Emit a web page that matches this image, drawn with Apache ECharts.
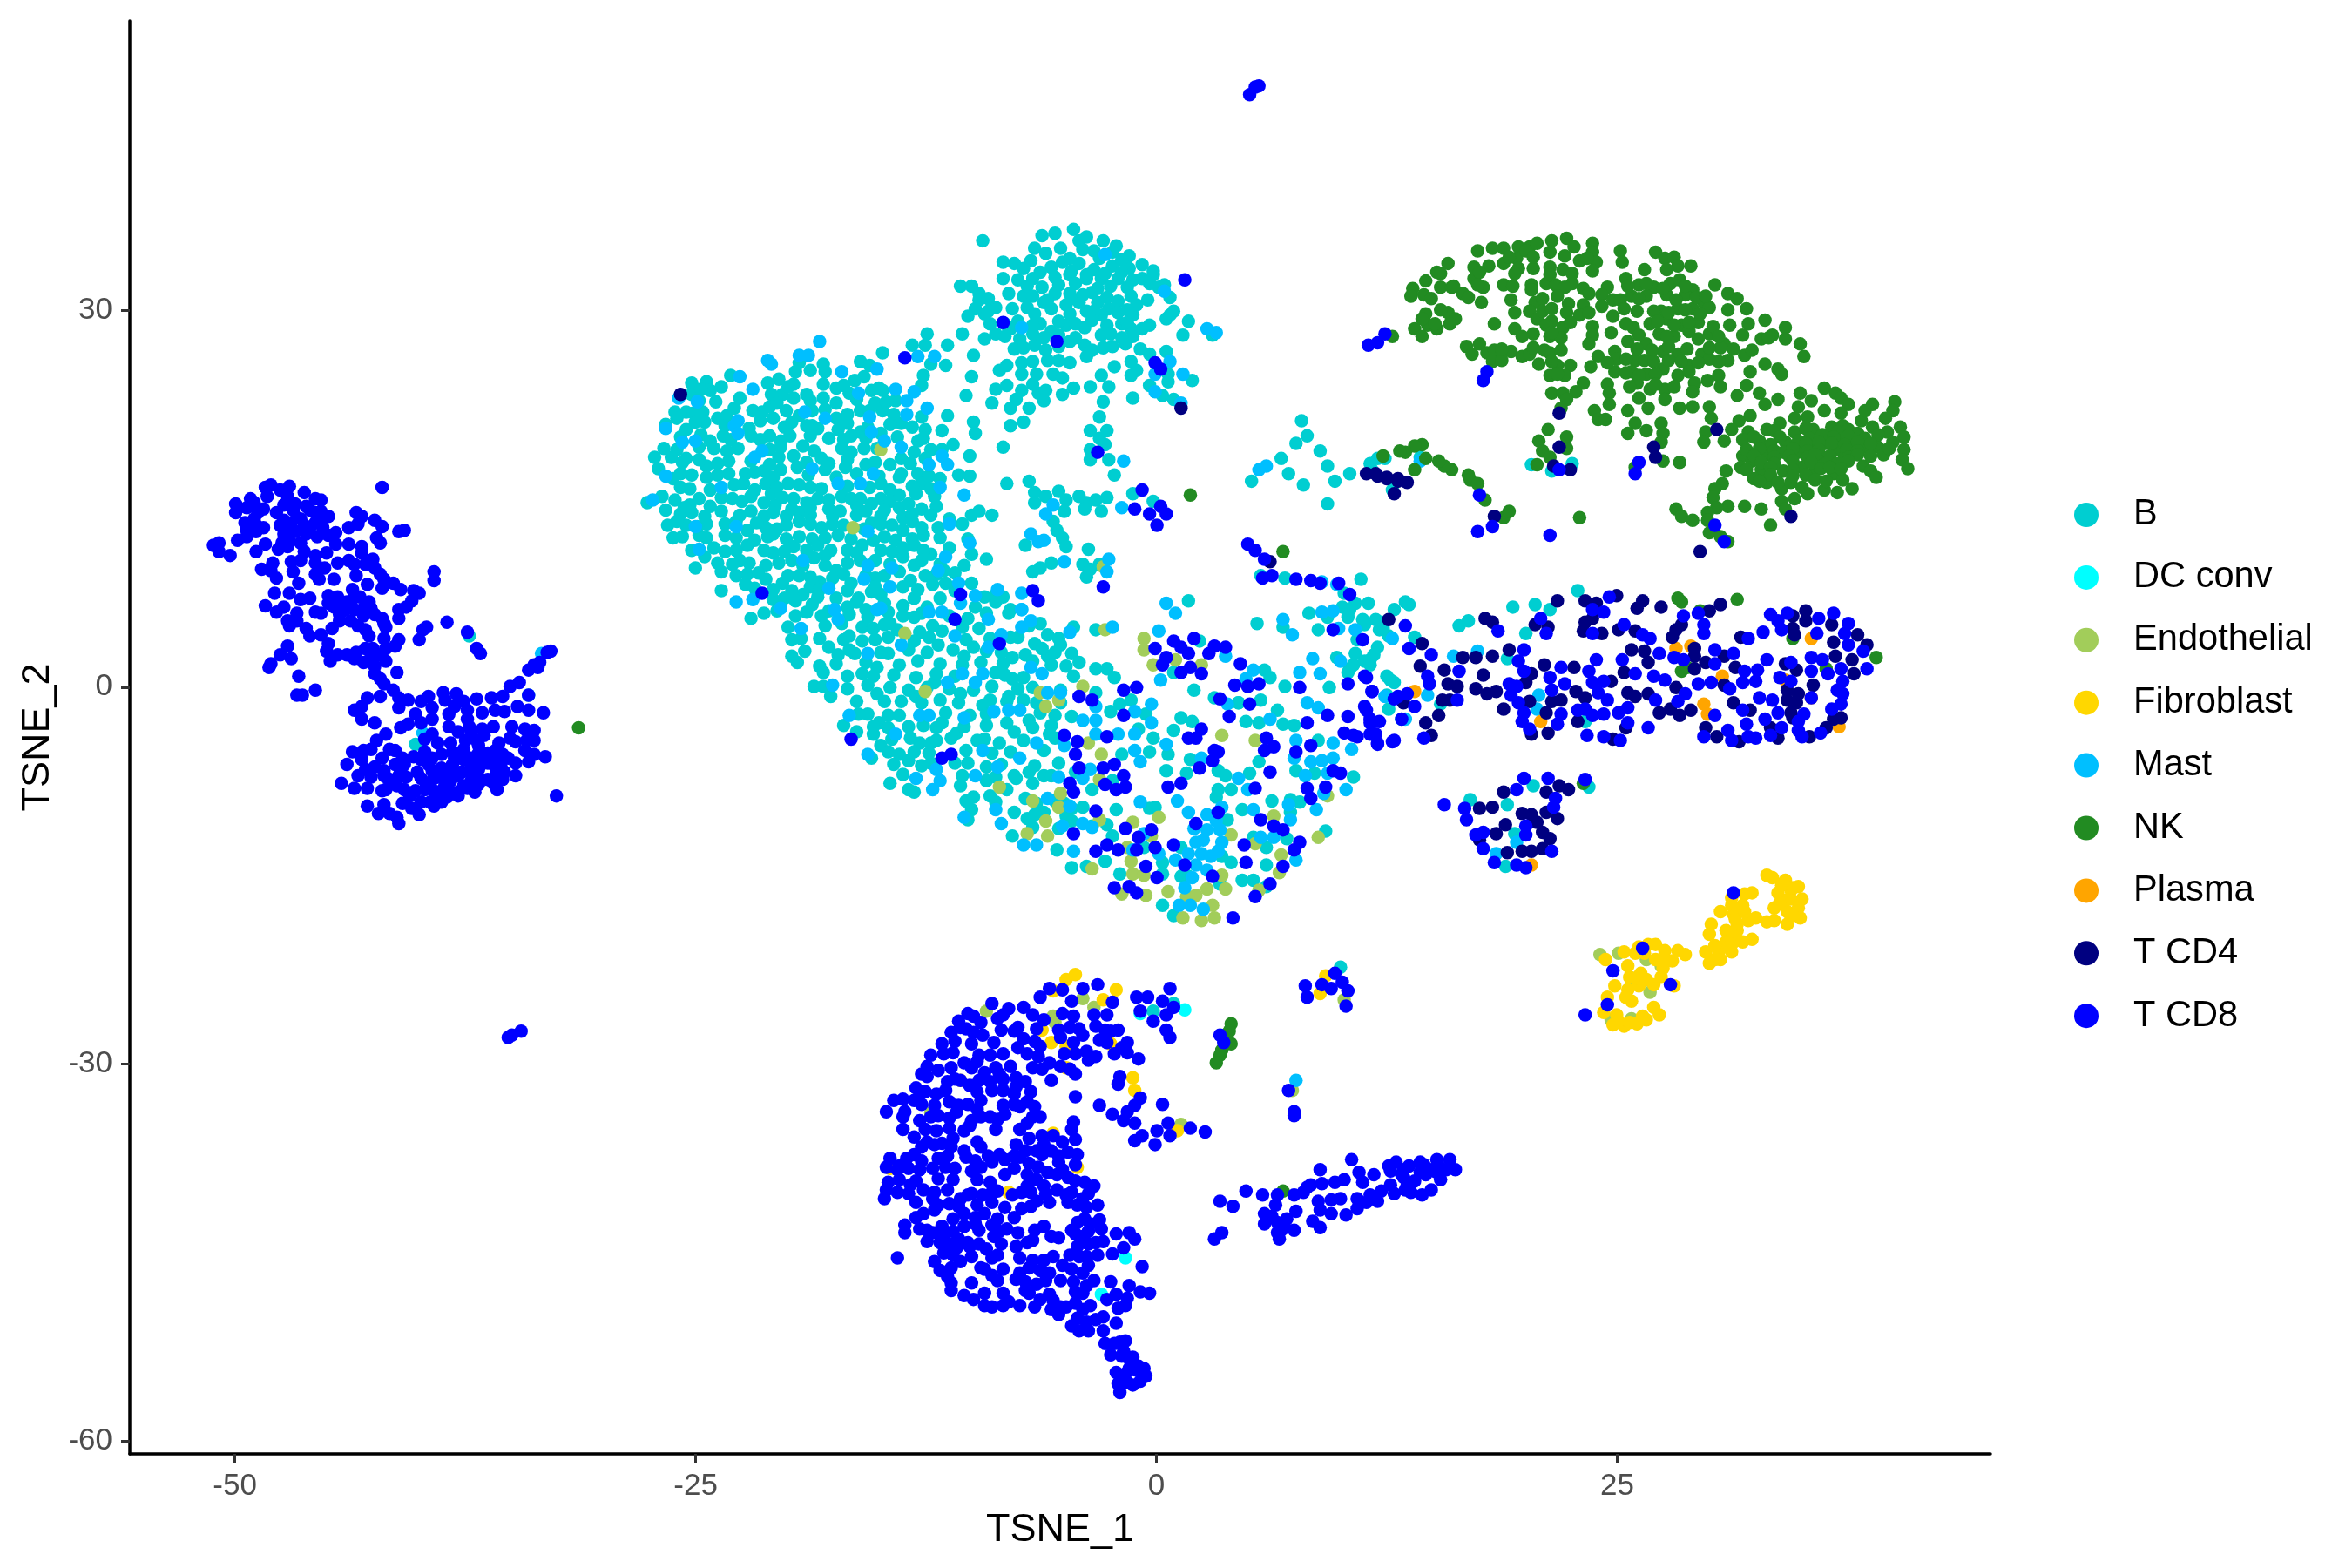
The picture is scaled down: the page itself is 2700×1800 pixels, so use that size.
<!DOCTYPE html>
<html><head><meta charset="utf-8">
<script src="https://cdn.jsdelivr.net/npm/echarts@6/dist/echarts.min.js"></script>
<style>html,body{margin:0;background:#fff}#c{width:2700px;height:1800px}</style></head>
<body><div id="c"></div>
<script>
const cellTypes=["B","DC conv","Endothelial","Fibroblast","Mast","NK","Plasma","T CD4","T CD8"];
const xTicks=[-50,-25,0,25];
const yTicks=[-60,-30,0,30];
// flat x,y lists
const bTop=[-9.7,35.6,-6.5,36,-5.8,36.2,-4.8,36.5,-4.1,35.9,-4.5,35.6,-6.9,35,-6.3,34.6,-3.2,35.6,-2.5,35.2,-1.8,34.4,-3.7,34.8,-2.7,34.7,-8.6,33.9,-8,33.8,-7.5,33.4,-8.6,32.6,-7.8,32.5,-7,32.6,-6,33.5,-5.4,33.9,-4.5,33.8,-3.7,33.3,-2.7,33.6,-1.8,33.4,-1.1,33.7,-.5,33.2,-1.1,32.6,.1,32.1,.4,31.1,-1.6,32.5,-2.4,32.6,-3.3,32.6,-4.1,32.6,-5,32.9,-5.8,32.7,-6.5,31.9,-8.3,31.4,-7.5,31.2,-10.9,32,-10.3,32,-9.9,31.4,-9.9,30.9,-10.1,30.2,-10.5,29.6,-9.6,29.8,-9,30.3,-8.1,30.2,-7.3,30.3,-6.4,30.7,-5.8,31.4,-5,31.4,-3.8,31.5,-4.5,30.7,-5.2,30.5,-3.5,30.7,-2.9,30.2,-4.1,30,-3.3,29.7,-1.6,29.7,-1.4,30.5,-2.2,29,-1.7,28.6,-.7,28.9,-1.1,28.6,.4,29.7,.6,30,.2,29.4,1.4,29.2,1.1,28.1,2.7,28.1,-9.3,29,-9,28.2,-9.6,27.8,-8.2,28.6,-6.6,29,-6,28.4,-5.2,28.9,-4.2,28.7,-3.3,28.1,-5,27.6,-4.2,27.3,-7.7,27.8,-6.9,27.3,-2.7,27.2,-2,27.4,-1.6,28,-.7,26.6,.2,26.8,-4.1,26.4,-5,25.9,-6.2,26.1,-7.6,25.9,-2.6,25.6,-3.3,24.9,-5.9,25,-5.4,24.7,-7.6,25,-8.4,25.7,-8.8,25.3,-1.4,25.3,-1.7,24.9,-8.4,24.1,-9,23.8,-7.6,23.7,-7.9,23,-8.2,22.3,-7.2,22.3,-9.2,22.7,-6.7,23.5,-6.3,23.7,-6.4,22.9,-5.4,23.4,-4.8,23.9,-3.9,24,-3.2,22.8,-1.6,23.1,.3,24.4,-.7,24.1,0,23.3,.6,23,1.6,24.5,.3,25,-8.2,20.9,-7.5,21.2,-3.4,21.6,-3.9,20.5,-3,20.5,-3.4,19.9,-3.1,19.4,-3.9,19,-3.9,18.2,-2.9,18.2,-2.6,17,-8.6,19.2,-8.4,16.3,-7.2,16.5,-6.9,15.6,-6.9,14.8,-6.3,15.3,-5.6,15.7,-5.2,15,-4.5,15.3,-4.1,14.8,-3.6,15,-3,15.2,-3.3,14.1,-4.2,14.3,-5.3,14.1,-5.9,13.3,-5.7,12.6,-5.4,12,-5.2,11.3,-1.6,15.5,-.5,14.9,-7.4,11.4,-4,11.1,-6,10,-6.6,9.6,-7,9.3,-4.3,9.9,-3.9,9.5,-3.4,9.9,-4.1,8.9];
const bLeft=[-23.3,24.9,-25.4,24.3,-24.6,24.4,-23.8,24,-24.4,23.7,-25.4,23.4,-21.3,24.3,-20.7,24.6,-19.8,25.2,-19.6,25.9,-19,25.3,-18.3,25.8,-18.2,25.2,-16.3,26,-15.8,25.7,-15.1,26.7,-16.1,24.8,-16.6,24.5,-18.3,24.2,-17.6,23.9,-19.9,24.2,-21.1,23.4,-20.5,23.4,-19.9,23.1,-19.2,23.4,-16.9,23.5,-15.7,23.7,-15.1,23.7,-14.4,22.9,-13,24.1,-12.9,24.9,-12.5,25.8,-11.7,25.7,-12.7,28.2,-12.8,27.3,-13.5,27.3,-11.6,27.3,-10.8,28.2,-10.2,26.5,-10.3,24.8,-10.6,23.3,-11.6,21.7,-10.2,21.2,-10.1,20.3,-11.9,20.5,-12.8,20.6,-14.1,21.1,-15.1,22.1,-16.3,22.1,-15.5,22.7,-18.3,23.1,-18.2,22.2,-17.6,21.5,-20.3,22.1,-21.2,22.4,-22.1,22.1,-23.1,22.3,-24.1,22.8,-24,21.5,-24.8,22,-24.7,21.2,-26.3,22,-25.7,22,-26.2,21.5,-25.7,20.6,-21.7,21.3,-21,21.5,-20.4,20.8,-19.2,20.9,-18.6,20.7,-17.5,20.6,-16.3,20.4,-15.2,20.3,-22.2,20.1,-21.2,20.1,-20.1,20.1,-18,19.9,-16.8,20.1,-24.4,19.7,-23.3,19.8,-26.9,19.1,-27.4,18.4,-27.2,17.5,-26.5,18.4,-25.7,18.3,-24.2,19.1,-22.9,19.1,-20.7,18.4,-19.4,19.3,-19.9,18.5,-18.4,18.3,-17.3,19.1,-16.1,19.1,-14.1,18.3,-13.2,19.7,-12.5,19,-11.3,19.4,-10.4,18.5,-26.4,16.7,-25.4,17,-24.6,17.7,-24.6,16.8,-23.4,18.1,-23.4,17.1,-22.5,17.1,-21.5,17.3,-20.6,17.4,-19.7,17.6,-18.2,17.4,-17.1,17.6,-16,17.8,-14.7,17.8,-13.2,17.1,-22.6,16.3,-21.4,16.3,-20.2,16.3,-19,16,-15.2,16.3,-14.2,16.8,-13,16.3,-12,16.7,-11,17,-10.4,16.9,-25.5,15.9,-24.4,15.8,-27,15.3,-27.8,14.8,-25.5,14.6,-23.2,15.1,-22.2,15.3,-21.1,15.5,-19.9,15.1,-18.6,15.1,-17.3,15.3,-16.3,15.1,-15.2,15.1,-14.2,15.4,-13.3,15.5,-12.3,15.3,-26.8,14.2,-25.8,14.4,-24.4,14.5,-22.2,14.1,-20.9,14.6,-19.6,14,-18,14.3,-16.5,14.6,-14.2,14.4,-13,14.3,-12.2,14.5,-26,13.9,-24.7,13.7,-21.5,13.7,-20.3,13.7,-19,13.8,-17.8,13.7,-16.5,13.8,-15.2,13.7,-14,13.6,-10.3,13.8,-9.9,14.1,-9.2,13.8,-26.7,13,-25.7,13,-24.6,13.1,-23.6,13.1,-22.4,12.6,-21.4,12.8,-20.3,13,-19,13.1,-17.8,13.1,-15.7,13.2,-14.6,13,-13.5,13.3,-12.1,12.8,-10.8,13.1,-25.9,12.1,-24.6,12,-23.6,12.2,-21.3,12.1,-20.3,11.9,-18.9,11.9,-15.6,11.8,-14.4,11.8,-12.9,12.2,-10.5,11.9,-24.7,10.5,-23.6,10.9,-22.4,11.4,-21.5,11,-19.9,11.3,-18.6,11.4,-17.9,11,-17,11,-16.2,11.4,-14.6,10.9,-13.4,11.4,-12.5,10.7,-10.3,10.7,-25.2,9.6,-23.8,9.3,-23.2,9.9,-22.3,10,-21.4,9.8,-20.7,10,-18.8,10.4,-17.6,9.4,-16.3,10.2,-14,10.5,-13.4,9.8,-9.5,10.3,-10.7,9.8,-22.4,9.1,-20.2,9,-21.4,8.7,-22.5,8.3,-23.8,7.8,-20.5,8.4,-18.5,8.5,-16.8,8.4,-15,9,-14.2,9.3,-12.8,9,-11.2,9.2,-12.4,8.3,-11.7,8.4,-10.3,8.4,-14,8.1,-22.2,5.6,-21,7.1,-20.4,7.2,-19.4,7.5,-18.6,7.3,-17.6,7.2,-16.5,6.9,-15.7,7.7,-13.4,7.2,-12.7,6.5,-9.6,7.3,-9,6.9,-8.2,6.3,1.4,7];
const bLow=[-20.2,4.9,-20,3.9,-20,2.6,-19.7,2.1,-18.5,1.8,-18.3,1.3,-18.8,.2,-18.3,.2,-17.9,-.6,-19.2,6.1,-18.4,5.8,-18.5,4,-18,3.3,-17.5,2.7,-16.4,7.2,-17.2,3.9,-16.2,4.9,-16.6,2.8,-16.2,3.8,-15.2,7.5,-15,5.1,-14.3,4.7,-14.8,2.8,-13.4,5.7,-13.1,4.5,-11.9,4.6,-12.1,3.5,-11.3,3.1,-10.7,2.6,-10.2,3.3,-9.9,4.8,-7.8,4.1,-8.3,6,-10.1,6.5,-9,7.5,-6.9,3.6,-8.1,2.5,-7.4,2.7,-6.2,2.6,-6.2,4.3,-5.5,3.5,-4.9,2.8,-5.2,1.8,-3.6,4.7,-3.6,1.6,-3,1.6,-2.6,.9,-17,1,-16.2,1.2,-15.4,1.7,-15.9,.3,-15.4,-.4,-15,-1,-14.1,-1,-13.3,-.6,-12.3,.5,-9,1.3,-8.1,.8,-10.9,-.4,-9.3,-.9,-8.3,-.6,-6.8,-1.1,-17.2,-2.9,-16.5,-3.4,-15.9,-2,-15.3,-2.7,-14.8,-2.1,-15.6,-3.6,-13.7,-3,-11.9,-2.7,-11.1,-3.5,-9.7,-1.3,-7.2,-2.5,-8.4,-2.7,-8,-3.4,-8.8,-4.3,-10,-4.1,-6.1,-3.6,-4.9,-2.2,-15.7,-5.5,-15.2,-4.5,-14.8,-5,-14.2,-5.2,-13.7,-5.7,-13.1,-4.3,-12.5,-4.3,-12.5,-5.9,-11.2,-5.9,-10.8,-6.9,-9.5,-6.2,-9.5,-7.3,-8,-6.9,-7.2,-6.6,-5.6,-5.9,-6.4,-6.9,-7,-7.5,-14.7,-7.5,-14,-6.8,-13.7,-8,-13.4,-8.2,-10.9,-7.7,-10.6,-8.9,-10.2,-8.6,-10.3,-9.6,-10.5,-10.4,-9.3,-8.5,-8.4,-8,-8,-9.8,-8.1,-11.7,-5.7,-12.8,-4.9,-14.2,-4.1,-14.1,-7.4,-8.7,-7.3,-10.3,-6.4,-9.8,-4.9,-9.5,-4.3,-9.4,-4.9,-10.5,-3.8,-8,-4.7,-6.6,-2.7,-7.3,-2.5,-9.6,-3,-10.8,-2.7,-11.7,-3.1,-13.7,-2.3,-14.7,-1,-12.6,0,-13.8,0,-14.7,0,-17.2,.6,-18,3.1,-15.5,4.3,-15.2,4.9,-15.2,5.6,-15.7,1,-14.9,1.4,-14.9,1,-12.6,3.2,-13.3,3.7,-13.8,5.6,-14,5.6,-12.6,4.9,-11.8,6.7,-11.9,8.8,-11.3,6.9,-9.8,3.5,-10.4,3,-9.8,-.4,-9.4,-.7,-9.5,4.3,-9.6,4.1,-1.1,2.9,-8.6,3.7,-8,3,-8,5.9,-8.9,6.9,-8.8,7.4,-9,.2,-6.5,1.3,-6.7,3,-6.5,3.4,-6.9,4.7,-6.7,5.2,-5.8,1.5,-5.6,-.7,-5,-2.2,-5.2,.3,-5.2,-.5,-3.9,-1.3,-3.2,.6,-3.3,1,-2.3,1.6,-2.6,8.4,-4.1,7.2,-6.5,8.2,-6.7,10.3,-7,5.5,1.5,5.8,.9,2.8,-.7,4.1,-1.1,5.3,-.9,4.5,-2.6,5.2,-2.7,6.2,-1.7,6.5,-2.8,7.1,-2.9,6.6,.2,9,.1,12.3,.7,5.1,5.2,6.5,4.9,8.4,4.7,7.9,6,9.8,7.6,10.4,6.8,11.1,6.8,9.7,6.5,10,5.7,10.8,5.5,11.8,5.3,11.4,2.7,10.4,2.8,9.4,2.5,11.7,4.7,12.2,4.2,10.3,1.9,11.2,1.9,10,1.3,.6,1.3,1.7,-.1,2,3.8,-3.6,-.3,-2.3,-1.2,-1.7,-.9,-.9,-2,-2.8,-1.8,5.3,9,6.6,8.8];
const bMid=[7.5,21.3,7.8,20.1,7.2,19.5,6.4,18.3,6.8,17.1,8.5,18.9,8.9,17.7,9.3,16.5,4.8,16.5,7.6,16.2,8.9,14.7,10.1,17.1,12,18.3,10.7,8.7,10.1,6.3,10.9,5.1,11.5,5.5,10.5,3.9,11.6,3.3,10.9,2.2,10.1,1.6,12.1,1,13.3,6.7,12.5,6.3,8.9,5.7,13.9,18.4,11.2,17.9,11.3,17.4,11.6,18.3,12.4,15.8,22.1,17.9,21,17.3,19.9,17.8,22.4,7.8,13.1,6.9,18.9,6.5,20.1,6.7,20.9,6.3,19.6,4.4,16,5,16.5,5.4,13.6,4.1,11.9,4.8,12.5,.5,15,-1.2,12.9,-2.4,12.1,-.5,12.2,-1.6,18.6,2.4,11.2,2.3,22.8,-2.6,16.6,-8.8,18.6,-9.2,20,-7.7,23,-7.8,18.5,-14.1,19,-11.5,-37.4,4.2,-34.2,-.5,-40.3,-4.4,9.6,-22.1,-.5,-25.6,.6,-25];
const bFillLeft=[-24.9,23.8,-20.2,24,-17.2,24.1,-15.3,23.9,-25,22.9,-22.8,23.1,-20.8,22.7,-19,22.9,-17.6,22.7,-16.5,23,-14.9,22.8,-25.3,21.9,-23.5,21.7,-21.6,22,-19.6,21.7,-18.9,22.1,-17,21.8,-15.8,22.1,-14.5,21.8,-13,21.6,-26.8,21,-25.2,21.2,-23.6,20.9,-22.3,20.7,-20,21.2,-18.9,20.9,-17,21.1,-15.9,20.8,-14.7,21,-13.5,20.8,-26,20,-24.9,20.2,-23.7,20.1,-21.7,19.8,-20.6,19.7,-19,20.1,-17.2,19.8,-16,19.9,-14.3,20,-12.9,19.9,-26.2,19,-25,19.2,-23.5,18.9,-21.2,19,-20.6,19.2,-18.8,18.9,-16.8,18.8,-15.4,19.1,-13.4,18.8,-11.9,19,-25.9,18,-25,18.2,-24,17.9,-22.2,18.1,-21.2,17.8,-19.2,18,-18,17.9,-17,18.2,-15.5,18,-13.6,17.9,-12.8,18.3,-26,17.1,-24,17,-22,17.2,-21,16.8,-19.1,17,-17.6,16.8,-16.5,17.1,-15.3,16.9,-14.1,17.1,-12.6,16.9,-26,16,-23.1,16.2,-22,15.8,-20.8,16,-19.6,16.2,-18.4,15.9,-17,16.1,-15.8,16,-14.7,15.8,-13.5,16.1,-12.5,15.9,-26.3,15,-25,15.1,-23.8,15.2,-22.7,14.9,-21.5,14.8,-20.5,15.2,-19.2,14.8,-18,15,-16.8,15.1,-15.7,14.7,-14.7,14.9,-13.7,14.7,-25.4,14,-23.8,14.1,-22.8,13.8,-21,14,-20,14.3,-19,14.4,-17.4,14.1,-16,14.1,-15,14.2,-13.5,13.9,-12.5,13.8,-26.2,13.3,-25.1,12.9,-23,13.3,-21.9,13.2,-20.8,12.7,-19.6,13.3,-18.4,12.8,-17.2,13,-16.1,12.7,-15.2,13.1,-14,12.6,-13,12.8,-11.5,13.5,-26.4,12,-25,12.2,-23,12,-22,11.8,-21,12.3,-19.6,12.1,-18.2,12,-17.5,12.2,-16.8,11.9,-15,12.1,-13.5,11.9,-12,12,-25.4,11,-24.2,11.2,-23,11,-21,10.8,-20.4,10.9,-19.2,11,-18.2,10.6,-16.5,10.8,-15.2,11,-14,11.2,-12.9,11,-11.5,11.2,-24,10,-22.8,10.2,-20,10.2,-19.4,9.8,-18.2,9.8,-17,10,-15.5,10.2,-14.7,9.9,-13,10.2,-12,9.9,-23,9,-21.8,9.2,-19.6,9,-19,8.9,-17.8,8.8,-17.2,9.1,-16,9,-15.5,8.8,-13.6,8.6,-12.2,9.1,-11.8,9.4,-22,8,-21,7.9,-20,7.8,-19,8.1,-18.5,7.9,-17,7.8,-15.5,8.1,-13.2,7.9,-11.2,7.8,-19.8,7,-18.9,6.7,-17,6.5,-16,6.3,-15,6.8,-14,6.6,-12,7.2,-8.6,7.3,-21.5,6,-20.8,6.2,-19.8,5.8,-18,6.2,-16.9,5.9,-15.9,5.7,-14.8,6.1,-14,5.8,-13,6,-11.5,5.8,-10.5,5.6,-9.5,6];
const bFillTop=[-5.5,35,-4.3,34.9,-5,34.2,-3.4,34.2,-2.2,34.1,-7.1,34,-6.6,33.1,-4.9,33.2,-4.1,32.9,-3.1,33,-2.2,33.1,-.5,32.9,-7.3,32,-5.6,32.1,-4.7,32.2,-3.5,31.8,-2.8,32,-1.9,31.9,-.7,32.2,-.2,31.9,-9.4,31,-7,31.2,-6.2,30.9,-4.9,31,-4.3,31.3,-3,31.1,-2.4,30.8,-1.7,31.2,-.8,30.9,-9.4,30,-6.9,29.8,-6,30.2,-5,29.8,-3.7,30,-2.4,29.9,-1.9,30.1,-8.5,29,-7.8,29.2,-7,28.9,-5.6,29.2,-4.7,29,-3.8,29.3,-3,28.9,-1.9,29.1,-8.5,28,-7,28.2,-6.4,27.9,-5.6,28.1,-4.7,27.9,-2.8,28.2,-2.2,27.9,-8,27,-7.5,27.1,-6.3,26.9,-5.6,27.2,-3.8,26.9,-3.2,27.1,-1.2,27,-7,26,-5.6,26.1,-1.7,26,-6.8,25,-7,24.2,-2.9,24];
const bFillLow=[-18.2,5,-17.3,5.2,-15.6,4.8,-14.7,5.2,-12.4,5,-10.8,4.9,-7.2,5,-6.6,5.2,-4.8,4.9,-19.5,4,-16.9,4.2,-15.5,3.9,-14.8,4.1,-13.4,3.8,-12.6,4.1,-10.6,3.9,-9.3,4,-8.2,4.1,-5.6,4,-19.3,3,-16.9,3.1,-15.2,2.9,-13.7,3.1,-12.7,2.9,-9.5,3,-8.7,2.9,-6.5,3.2,-5.8,2.9,-17.6,2,-16,2.1,-14.2,1.9,-13.2,2.2,-12,2,-10.8,1.9,-9.8,2.1,-8.6,2,-7,2.2,-6,1.9,-4.5,2.1,-15.6,1,-14.5,1.1,-13.3,.9,-12.2,1.2,-11.2,1,-8.5,1.1,-7.5,.9,-4.8,1,-17,0,-14.7,.1,-13.7,-.1,-12.7,.1,-11.5,0,-10.2,-.1,-9.2,.2,-7.8,0,-7,.1,-5.5,-.1,-16.5,-1,-13,-1.1,-12,-.9,-11,-1.1,-8.4,-1,-7.5,-.9,-5.5,-1.1,-16.4,-2,-14.2,-2.1,-11.7,-1.9,-10.4,-2.1,-9.5,-2,-6.6,-1.9,-5.8,-2.1,-15.6,-3,-14.8,-3.1,-12.9,-2.9,-12.2,-3.1,-10.7,-3,-9.5,-2.9,-7,-3.1,-6,-2.9,-14.6,-4,-13.6,-3.9,-12.2,-4.1,-11.4,-3.9,-9.6,-4,-7.5,-4.1,-5.8,-3.9,-13.4,-5,-12.6,-5.1,-10.6,-4.9,-9.2,-5.1,-8.2,-5,-6.4,-4.9,-14.5,-6,-13,-6.1,-10.5,-5.9,-8.7,-6,-6.9,-6.1,-9,-7,-7.9,-7.1,-6,-6.9,-9,-9,-6.8,-9.1,-5.8,-8.9,-5.3,-9.1,-6.9,-10,-5.2,-10.1,-7,-11,-5.6,-11.1,-3.8,-10.9];
const dcConv=[-2,-45.2,-3.3,-48.1,1.2,-25.5,-1.2,-25.8];
const endo=[-15.2,19,-16.7,12.8,-3.2,9.7,-13.9,4.4,-12.8,-.2,-6.6,-.3,-5.6,-.9,-6.3,-1.4,-4.3,.2,-3.1,4.7,-4,-4.3,-3.3,-5.2,-8.8,-7.8,-3.4,-7.2,-7.3,-11.5,-6.2,-11.7,-7,-8.9,-5.5,-8.3,-5.6,-9.4,-6.3,-10.5,-3.8,-14.3,-3.4,-10.4,-1.6,-10.6,-1.9,-12.6,-1.7,-13.7,-1.6,-14.7,-1,-14.8,-.9,-16.4,-2.2,-16.3,-.6,-11.7,.3,-16.1,1.1,-18.2,1.3,-16.5,1.8,-16.4,2.1,-18.4,2.8,-18.2,2.4,-15.9,3.2,-14.8,2.7,-17.2,3.4,-15.9,5.2,-16,3.7,-11.6,5,-12.3,6.4,-13.2,6.3,-14.6,6,-10.1,8.4,-11.8,8.9,-8.5,-.2,-10.2,-1,4,-1,3.1,.7,2.3,-.5,1.9,2.1,1.9,3.2,-3.7,5,-4.1,23.6,-21.1,24.6,-21,26.1,-21.5,25.4,-23,26.3,-24.1,24.2,-26.3,25.3,-26.2,26.9,-22,-9.5,-25.6,-5.9,-26,-4.3,-24.6,-3.7,-25.3,-5.8,-26.5,-12.5,-33.7,1,-34.6,9.8,-24.7,7,-31.9];
const fibroA=[32.6,-14.8,32.9,-15,33.6,-15.2,34.3,-15.7,33.2,-16.2,33.9,-16,34.5,-16.7,33.6,-16.8,33,-17.4,34.3,-17.4,33.7,-17.7,34.4,-18.2,33.7,-18.7,33,-18.4,32.6,-18.5,31.8,-16.2,31.4,-16.3,30.7,-16.6,30.7,-17.2,31.3,-17.2,30.1,-17.7,30.8,-17.9,32,-18.2,31.6,-18.4,31,-18.7,29.6,-18.7,29.5,-19.5,30.4,-19.2,31,-19.2,31.8,-19.9,31.3,-20.1,30.4,-20.1,30,-20.9,30.7,-20.9,29.3,-20.9,29.5,-21.8,30.1,-21.5,33.9,-16.7,33.3,-17,33.9,-18,34,-15.8,33.4,-15.6,31,-17.8,30.9,-18.3,31.4,-17.7,30.3,-20.5,30.9,-19.7,30.7,-20.3,29.8,-20.4,29.8,-21.5];
const fibroB=[25.7,-20.5,26.2,-20.3,26.6,-20.3,27.1,-20.8,27.8,-20.8,28.2,-21.1,24.9,-20.9,23.9,-21.5,25.1,-22,27,-22.2,27.5,-21.6,25.8,-22.6,25.2,-22.9,26.9,-22.9,24.4,-23.6,25.1,-23.9,25.7,-23.6,26.5,-23.5,27.6,-23.6,24,-24.5,25,-24.5,25.3,-24.8,23.8,-25.7,24.5,-25.9,26.5,-25.3,26.8,-25.9,26.1,-26.3,25.6,-26.6,24.9,-26.8,24.3,-26.7,25.5,-21,26,-21,26.6,-21.5,27.1,-21.5,25.5,-23,26.1,-23.1,24.6,-26.4,25.2,-26.5,25.9,-26];
const fibroC=[-5.2,-23.1,-4.7,-22.7,-5.9,-24,-2.5,-23.9,-3.2,-24.7,-6.5,-27.1,-6,-28.1,-5.2,-28.4,-2.8,-28.2,-5.2,-30.1,-1.6,-30.9,-1.5,-31.9,-10.9,-31.1,-5.9,-35.3,.8,-35.1,-14.7,-38.1,-8.3,-40,-4.6,-38,8.8,-22.8,8.5,-24.2];
const mast=[-18.5,27.6,-21.3,26.1,-21.1,25.8,-19.6,26.5,-19.1,26.5,-17.3,25.2,-22.8,24.8,-22.1,23.8,-26.1,23.1,-14.4,23.8,-13.8,22.9,-13.4,23.6,-12.3,26.4,-13.2,26.4,-15.4,25.4,-16.4,23.5,-12.7,22.3,-13.8,21.8,-15.8,21.6,-19.3,22,-25.1,22.8,-26.8,20.7,-22.9,21.3,-23.1,20.9,-18.2,21.5,-15.7,20.4,-22.9,20.3,-25.9,19.6,-25.2,19.7,-21.6,18.9,-22,18.4,-15,19.7,-14.1,19.2,-11.9,18.5,-11.6,17.8,-12.6,17.8,-26.8,16.9,-18.9,17.5,-17.5,16.3,-16.3,16.3,-15.6,17.1,-12,16,-23.8,16,-27.5,15,-10.7,15.4,-25.2,12.9,-23,12.9,-15.9,12.5,-11.5,13.1,-25,11.1,-11.7,10.5,-10.4,11.6,-19.4,10.2,-15.9,9.8,-14.6,9.6,-12.1,9.4,-16.1,8.7,-14.7,8.1,-11,8.4,-18,8,-23,6.9,-22.1,7.1,-20.6,6.4,-15.2,6.4,-10.9,6.8,-10.1,7.4,-8.9,7.9,-7.6,7.6,-7.6,6.3,.2,6.8,.7,6,-2.9,10.3,-3,9.3,-5.3,10.1,-7.1,12.3,-6.4,11.8,-6.7,11.7,-2.2,14.4,-5.9,14.6,-6.3,13.9,-2.1,18.1,-7.6,28.7,-.4,25,-.4,23.6,1,22.7,.4,26,1.1,25,.1,31.6,2.4,28.6,2.9,28.3,-3.1,34.5,-19.5,4.8,-17.8,.3,-17.5,5.5,-17.7,6.3,-15.9,2.8,-15.4,6.3,-14.1,3.5,-12.6,6.1,-11.9,6.1,-11.2,4.2,-9.4,3.3,-9.4,5.5,-8.7,4.3,-7.6,4.9,-7.1,5.4,-7.6,6.3,-5,4.5,-7.1,1.7,-6.5,1.2,-11.6,.5,-10.8,1.2,-9.7,1.2,-10.1,.5,-6.2,-.3,-5.5,-.3,-2.7,4.9,-16.9,-2.1,-14.4,-3.6,-13.1,-2.1,-12.6,-2.1,-10.7,-2.3,-9.1,-1.8,-8.3,-1.7,-7.7,-1.7,-9.7,-4.9,-6.8,-4.3,-4.3,-2.5,-3.6,-2.5,-15.9,-5.2,-12.2,-6.4,-10.1,-6.9,-8.9,-6.2,-7.7,-5.5,-5.3,-4.5,-13.3,-7.1,-12.4,-8,-12,-7.3,-10.7,-10.2,-9,-9.6,-8.7,-10.7,-7.5,-12.4,-6.8,-12.4,-4.8,-12.9,-6.2,-8.7,-4.3,-10.7,-5.4,-10.9,-4.3,-7.1,-3.6,-1.4,-1.5,-1.8,-.6,-1.2,-.2,-13.1,.9,-17.2,2.2,-17.5,1.5,-17.2,1.8,-14,1.4,-13.1,2.1,-13.1,1.8,-12.2,3.2,-12.2,3.1,-11.2,2.4,-11.2,1.4,-9.8,.8,-8.9,2.9,-10.5,3.2,-9.4,4.9,-9.6,4.6,-8,-1.2,-9,5.3,-11.8,6,-11.8,7.2,-13.6,6.9,-10.4,8.3,-9.6,9.9,-8,4.1,-7.1,2.1,-5.5,-1.2,-5.8,-1.5,-4.9,.2,-4.4,-1.5,-3.6,-2.4,-3.6,-3.6,-3.6,-.6,-2.7,7.1,-5.5,7.2,-4.1,7.7,-6.9,8.6,-5.7,9.2,-4.3,10.2,-4.8,4.9,1.5,4.5,.8,3.5,-1.2,5.8,-2.4,7.4,1.3,8.1,2.4,7.8,-1.1,8.4,-1.5,12,-.6,6.5,5.5,7,4.3,9.5,4.8,10.4,4.7,8.6,6.1,9.4,8.3,9.2,6.2,8.5,1.2,9.6,2.2,8.6,8.5,5.6,17.7,5.2,17.4,-.1,.7,-.2,4.6,3.4,2.6,15.7,2.6,17,3,12.4,4,14.3,-.5,13.1,-2.4,20.3,-.5,20.2,-1.6,13.9,18.1,18,-13.1,19.1,-12.2,-33.5,2.8,-39.9,-3.5,7.2,-31.1,1.6,-15,1.2,-15.8,2.4,-14.4,2.6,-13.3,2.2,-12,.7,-13.6,3,-12.9,2.4,-10,1.7,-11.1,6.8,-9.2,8.7,-8.3,9.2,-5.5,8,-5.8,8.9,-6.7,-5.6,-7,-3.9,-6.4,-5,-9.3,-3.8,-11,-1.6,-12.8,-1,-11.5];
const nkA=[15.4,33.8,14.8,33.1,14.2,32.4,13.5,31.8,13.4,31.2,14.1,31.3,15,31.9,15.6,31.9,16.2,31.4,16.8,32.6,17.3,31.9,16.8,33.5,17,34.8,17.8,35,17.6,33.6,18.4,33.8,18.4,32.1,19.2,35.1,19.1,34.2,19.8,35.1,20.2,35.4,21,35.6,19.2,33.4,20,33.4,20.9,33.5,20.9,34.7,21.7,34.4,21.8,35.8,22.2,35.1,23.2,35.4,23.2,34.7,23.4,33.9,22.5,34,21.6,33.3,24.7,34.8,24.8,33.9,26.6,34.7,27.1,34.2,27.6,34.3,28.5,33.6,26,33.3,27.8,33.6,27.2,33.3,19.9,32.1,20.7,32.2,21.2,32.1,19.9,31.7,22.1,32.2,22.7,31.8,23,31.4,24,31.9,23.7,31.3,25,32.6,25.7,32.1,26.5,31.9,27.4,32.2,27.9,32.5,28.6,31.7,29.8,32.1,30.5,31.4,31,31,31.5,30.2,30.5,30.1,17.2,30.7,18.8,30.9,19,29.9,20.1,30.7,19.8,30,21.9,30.6,22.7,30.5,21.8,29.9,22.5,29.7,23.7,30.4,24.3,30.9,25.3,31.2,26.1,31.2,27.2,31.3,28.2,31.3,29.2,30.7,29.5,30.3,28.6,30.2,27.8,30.2,26.9,30,25.6,30,15.4,29.9,14.2,29.8,15.8,29.4,15.5,29,17.9,29,19,28.6,13.6,28.6,14.3,28.9,14.8,28.6,14,29.4,20.2,29.4,21,29.2,21.6,28.7,24.3,29.6,23.2,28.8,24.2,28.3,25.4,28.7,26.3,29,27.2,29.4,28,28.9,28.9,29.1,30.6,28.9,31.6,29,32.5,29.3,33.6,28.7,20,28.2,20.9,28,21.5,27.9,23.2,28.1,23,27.4,25.1,27.6,26.1,27.4,26.8,28.2,27.6,28,28.4,28.4,29.5,28.2,30.3,27.4,31.3,28.1,32.3,27.8,32.9,28.1,33.6,27.8,34.4,27.4,34.6,26.4,16.4,27.2,17.1,27.4,16.7,26.6,17.5,26.7,17.9,26.9,18.8,26.8,17.8,26,18.3,26.1,19.4,26.4,19.8,26.6,20.3,25.8,20.9,26.7,21.5,26.9];
const nkB=[23.5,26.4,24.4,26.8,24.5,26.2,25.5,26.1,26,26.1,27,26.8,27.8,26.6,28.4,25.7,29.1,26.6,30.1,27.1,29.5,26.2,30.5,26.1,31.4,26.5,32.5,25.8,33.2,25.4,33.4,25,31.7,25.2,21.3,25.7,22,25.7,23.1,25.6,24.4,25.2,20.9,24.9,21.7,24.9,25.3,25.2,26.1,25,27,25.4,27.8,24.9,30,24.9,22.7,24.3,21,23.5,21.6,23.5,22.3,23.6,24,24.2,24.1,23.5,25.6,24.3,26.3,23.8,27.1,23.8,28.7,24.3,29.4,24.5,30.1,24,28.6,23.6,25.7,23.1,27.1,23,31.5,24.1,31,23.3,32.2,23.5,32.5,22.6,33.2,23,21.8,23,21.5,22.3,24.1,22.6,23.3,22.1,23.5,21.4,23.9,21.4,25.1,22.1,26.2,22.3,27.9,22.3,28.6,22.4,29.5,22.4,29.6,21.5,31.7,21.7,31.1,21.3,25.5,21.1,26.9,21.1,25.1,20.3,26.1,20.5,20.8,20.6,20.3,19.7,21.8,20,27,20.3,26.9,19.6,29.3,20.4,29.2,19.6,30.3,19.7,27,18.1,27.9,18,20.5,18.9,20.9,18.4,20.2,17.8,21.8,19.1,30.7,20.6,31.6,20.4,31.3,19.8,31.3,18.5,32.2,19.7,32.6,20.6,33.3,21.1,34.1,20.4,33.6,19.6,34.3,19.7,32.6,18.6,33.5,18.8,34.3,18.8,35,19.1,35.8,19.5,35.1,20.6,36.1,20.8,36.7,20.9,36.6,19.9,37.5,20.3,38.3,20.8,37.7,21.3,38.3,22.6,37.9,22.1,39.5,22.8,39.4,22.1,39,21.5,39.8,20.8,40,20,39.1,20.4,39.4,19.6,40,19,38.6,19.2,38.9,18.6,39.9,18.2,40.2,17.5,37.9,19.2,37.1,19.2,36.4,19,35.6,18.3,36.8,18.4,37.8,17.7,38.2,17.3,38.5,16.8,35.7,23.9,36.3,23.5,36.6,23.1,37,22.6,36.6,21.9,35.7,22.1,34.4,23.5,35,22.9,34.3,22.4,34.1,21.5,34.8,21.6,31.8,18.1,32.3,17.4,33.5,17.3,34.5,17.6,35.1,17.1,36.2,17.1,36.7,16.6,31.9,16.7,32.6,16.4,33.4,15.9,33.9,16.4,34.5,16,34.8,15.5,35.7,15.8,36.4,15.6,37.2,15.9,33.4,14.9,33.6,14.3,34.1,15.1,30.4,17.3,31.2,17.6,30.2,16.3,29.8,15.9,29.7,15.2,30.5,14.5,31.4,14.5,29.9,14.4,29.4,14,29.4,13.4,32.3,14.3,29.5,12.4,27.7,14.3,28,13.7,28.6,13.4,32.8,13,30.1,12.1,30.5,11.7];
const nkC=[25.5,17.6,18.4,13.6,18.7,14.1,17.4,15,22.5,13.6,12.4,28,15.6,17.4,15.2,17.7,14.9,18.1,16.5,17,16.6,16.6,17,16.3,14.2,18.3,14,19.4,13.6,19.3,13.1,18.8,12.8,18.9,13.6,17.4,11.9,18.5,6.5,10.9,1.5,15.4,27.8,7.2,28,6.9,31,7.1,29,6.2,34,4,38.5,2.5,35.8,1.6,28,1.4,28.3,1.7,22.7,-7.5,3.7,-26.6,3.6,-27.2,3.7,-28.2,3.2,-28.7,3.1,-29.1,2.9,-29.7,6.5,-39.9,-31.5,-3.1];
const nkFill=[18.4,35,19.6,34.8,18.7,34.3,20,34.3,22.9,34.2,15,33,17.1,33.1,19,33,20.9,32.9,22.1,33,23.2,33.2,15.7,32,17,32.1,18.9,32,21.7,31.9,25.1,32,26.1,32.2,27,31.8,28.2,32,14.5,31,16.5,31.1,20.5,31,21.3,31.2,24.7,30.9,25.7,31,27.7,30.9,28.8,31.1,29.3,31.2,15,30.1,20.5,30,21,30.2,23,29.9,24.9,30.2,26.5,30,27.3,29.9,28.2,30.1,29,29.8,14.7,29,20.7,28.9,22,29.1,25,29,26.7,29.2,27.6,28.9,28.4,29.1,29.7,28.8,14,28,19.4,28,21,28.3,25.7,28.1,27.2,28,28.9,27.8,30,28,32.7,27.9,18.3,27,20,27.1,20.6,26.9,25.6,27,26.4,26.9,27.3,27.2,28.3,27,29.5,27.1,30.8,27,31.8,26.9,21,26,24,25.9,25,26.2,26.5,26,27.3,26.1,28,26,28.9,25.9,30,26,21.3,25,25,25.1,25.7,24.9,26.6,25,28.4,25.2,25.2,24,26.6,24.2,27.6,24,33,20.5,34.7,20.7,36.4,20.4,37,20.6,31.9,20,33.3,20,34.9,19.9,35.6,20.2,36.2,20,37,20.1,37.9,19.9,38.6,20.2,32.8,19.4,34.7,19.5,35.4,19.6,36.1,19.5,36.8,19.4,37.5,19.6,38.2,19.5,31.5,19,32.2,19.1,33,18.9,34,19.1,34.8,18.9,35.4,19,36.9,19,37.5,18.9,39.2,19.1,31.9,18.5,33,18.4,33.8,18.5,34.8,18.4,35.2,18.6,36,18.5,37,18.4,37.5,18.6,38.2,18.5,32.3,18,33,17.9,34,18.1,35,18,35.9,18,36.4,17.9,37,18.1,31.5,17.4,32.8,17.6,34,17.4,35.5,17.5,36,17.6,36.6,17.5,32.8,17,34,16.9,34.7,17,32.2,16.5,33.2,16.4,35.2,16.6,35.8,16.5];
const plasma=[35,4,27.7,3.2,28.5,3.4,29.4,-2,29.2,-1.2,30.2,1,33.6,.7,36.5,-3,35,-.7,20.4,-2.6,13.6,-.2,19.9,-14];
const cd4=[21.3,7,22.8,7,23.4,6.8,24.5,7.4,25.9,7,25.6,6.4,26.9,6.5,30.1,6.7,29.5,6.2,17.4,5.6,17.8,5.3,20.1,5.1,20.8,4.9,23.2,5.6,22.8,5.3,22.7,4.6,23.7,4.4,24.6,4.7,25.5,4.6,27.5,4.1,28,5.1,27.7,4.7,31.2,4.1,34,5.8,34.7,6.2,34.7,5.4,34,4.8,34.1,4.3,36.1,5.1,37.5,4.3,38,3.5,36.2,3.7,36.3,2.6,37.2,2.3,37.3,1.2,36.6,-2.3,36.2,-2.4,35.8,-3.1,34.9,-3.8,33.6,2,34.2,1.5,33.7,-.1,34.3,-.4,33.7,-.9,34.2,-1.1,33.9,-1.9,35.1,.3,34,-2.3,32.8,-3.1,33.2,-3.9,31.1,-4.2,29.9,-3.8,29.3,-3.1,30.9,1.7,30.3,.3,30.8,-1.1,31.7,-1.7,30.3,2.6,29.3,2.1,28.7,3.2,28.7,2.6,28.7,1.6,25.3,3.1,26,3,26.2,2.1,24.9,1.3,24.2,.6,25.1,-.3,27.7,.1,25.5,-.6,26.2,-.4,26.8,-1.9,27.4,-1.6,27.9,-2.1,28.5,-1.7,25,-3.1,24.3,-4,22.3,-.2,22.8,-.7,22.4,-2.6,21.5,-.9,21,-1,20.8,-3.5,20.7,-1.9,20.6,1.9,22.2,1.7,19.9,1.2,19.6,.5,18,-.2,17.5,-.4,16.9,0,17.3,1.1,18.7,3.1,17.8,2.6,16.9,2.5,16.2,2.5,15.2,1.5,15.4,.4,15.9,.2,15.1,-.9,15.5,-.9,14.9,-2.1,14.2,-2.7,14.5,-3.7,19.9,-3.6,18.4,-1.6,19.8,-1,14,3.6,13.9,1.8,13,-1.1,17.1,-9.5,17.8,-9.4,18.4,-8.2,20.7,-8.2,21.4,-7.7,21.9,-8,21.3,-10.3,20.7,-9.8,19.9,-10,20.2,-10.6,19.4,-9.9,18.5,-10.8,18,-11.5,17.1,-12,18.6,-13,19.4,-12.9,19.9,-12.9,20.5,-12.7,20.9,-11.9,20.5,-11.4,11.5,17.1,12.1,16.7,12.7,16.5,13.2,16.4,11,17.1,11.6,16.9,12.1,16.8,12.7,16.7,12.5,15.5,17.9,13.7,21.4,21.9,21.4,19.2,21.1,17.7,22,17.4,26.5,19.2,26.6,18.4,29.9,20.6,33.9,13.7,29,10.9,5.8,10.1,1,22.3,-26,23.4,12.2,5.5];
const cd8Left=[-51.2,11.4,-50.9,11.6,-50.9,10.9,-50.3,10.6,-49.9,11.8,-49.4,12.1,-50,14.7,-50,14,-49.2,15.1,-49.4,14.4,-49.5,13.2,-49.4,12.6,-48.9,12.5,-48.5,12.8,-49,13.5,-48.4,16,-48.1,16.2,-48.3,15.3,-47.6,15.8,-47.1,16.1,-47.2,15.3,-46.8,14.7,-46.3,15.6,-45.7,15.1,-45.4,15,-46.2,14.5,-47.8,14,-48.5,14.3,-45.7,14,-45,13.7,-45.4,14.1,-43.5,14,-43.2,13.7,-42.5,13.4,-42.1,12.9,-42.1,16,-43.9,12.8,-43.4,13.1,-41.2,12.5,-40.9,12.6,-42.4,12,-42.2,11.6,-47.2,13.2,-46.7,13.6,-46.3,13,-45.7,13.2,-45.3,12.8,-47.6,13,-47.4,12.3,-46.8,12.5,-46.2,12.3,-45.6,12.1,-45,12.2,-47.5,11.6,-47.1,11.7,-46.5,11.6,-47.7,11.1,-48.4,11.5,-48.9,10.9,-47.2,11.3,-46.3,10.9,-45.7,10.6,-45.1,10.8,-44.6,11.5,-43.9,11.5,-43.2,11.3,-43.2,10.8,-47,10.1,-46.5,10.2,-45.7,10,-45.2,9.6,-44.5,10,-43.9,10.2,-43.6,9.9,-43,9.9,-42.6,10.3,-42.5,9.6,-48,10,-48.6,9.5,-48.1,9.4,-47.8,8.8,-46.9,9.3,-46.6,8.4,-45.7,9.1,-45.5,8.7,-44.7,8.7,-43.5,9,-42.2,9.1,-42,8.7,-42.9,8.3,-42.1,8,-41.5,8.4,-41.1,7.9,-40.4,7.8,-40.1,7.6,-39.3,9.3,-39.3,8.6,-47.9,7.6,-47.1,7.6,-46.5,7.1,-46,7.2,-45,7.4,-44.5,7.3,-43.7,7.9,-43.6,7.3,-42.8,6.9,-40.5,7,-40.8,6.5,-41.2,6.3,-41.2,5.6,-48.4,6.6,-47.8,6.1,-47.4,6.5,-47.2,5.4,-46.7,5.4,-45.7,6.1,-45.4,6,-44.7,6.5,-44.1,6.3,-43.6,6.3,-44.4,5.4,-43.8,5.4,-43.1,5.8,-42.5,5.9,-42.1,5.6,-41.9,4.9,-46.2,4.8,-46,4.2,-45.4,4.3,-44.8,4.8,-45,3.6,-43,4.7,-42.8,4.2,-42,4,-41.2,3.9,-39.7,4.9,-39.9,4.7,-40.1,3.9,-38.6,5.3,-37.5,4.5,-37,3.2,-36.8,2.8,-45.1,3,-44.9,2.2,-44.5,2.7,-44,2.7,-43,3.2,-43.6,2.4,-43.1,2.1,-42.7,2.6,-42.2,2.7,-41.9,3.2,-42.5,1.8,-42.5,1.2,-42.2,.8,-42,.4,-41.3,1.3,-47.2,3.4,-47.6,2.7,-47,2.4,-48.1,2,-48.2,1.7,-46.6,1,-45.7,-.1,-46.7,-.5,-46.4,-.5,-41.5,-.1,-41.2,-.7,-40.7,-.9,-41.2,-1.5,-42.2,-.6,-42.9,-.7,-43.2,-1.4,-43.6,-1.7,-43.2,-2.4,-42.5,-2.7,-40.3,-2,-40,-2.7,-40,-1,-39.6,-.6,-38.8,-.3,-38.7,-.9,-38.1,-.4,-37.7,-1,-37,-.8,-36.2,-.7,-35.6,-.6,-35.2,.2,-34.7,.5,-34.2,1.5,-33.9,1.9,-33.7,1.7,-33.6,2.1,-33,3,-33.2,2.9,-34.2,-.5,-39.4,-1.5,-39.4,-2.4,-38.5,-2,-38.2,-1.4,-37.5,-1.7,-37.5,-2.4,-36.7,-1.9,-36,-1.7,-35.5,-1.8,-34.8,-1.4,-34.2,-1.7,-33.4,-1.9,-36.1,-3,-35.1,-3,-34.4,-3.2,-33.9,-3.3,-33.9,-4.1,-34.9,-4.2,-41.1,-3.1,-40.7,-2.8,-41.9,-3.6,-42.4,-4.1,-41.7,-4.8,-39.4,-3.6,-38.5,-3,-38,-3.4,-37.3,-3.4,-36.6,-3.7,-39.1,-4.3,-38.4,-4.3,-37.6,-4.1,-36.9,-4.5,-35.8,-4.3,-43.7,-5,-43.1,-4.9,-42.7,-4.8,-42.1,-5.5,-41.4,-4.9,-39.8,-5,-38.9,-5.2,-38.2,-5.5,-37.3,-5.5,-36.4,-5.1,-35.3,-5.5,-34.4,-4.9,-33.9,-5.2,-33.3,-5.4,-34.2,-5.8,-44,-6,-43.2,-5.6,-43,-6.4,-42.5,-6.2,-41.4,-6,-40.9,-6,-39.6,-6,-38.9,-6.3,-37.8,-6.6,-36.9,-6.4,-36,-6.2,-35.5,-6.6,-43.4,-6.9,-42.7,-7,-42,-6.9,-41.2,-6.9,-40,-7.1,-39.3,-7.1,-38.4,-7.3,-37.3,-7.3,-36.4,-7.2,-35.6,-7.2,-44.3,-7.5,-43.6,-7.9,-42.9,-7.9,-42.1,-8.1,-41.3,-7.7,-40.9,-8,-40.3,-8.1,-39.4,-8,-38.9,-8.1,-38,-8.2,-37.1,-8.2,-35.9,-8,-42.9,-9.3,-42,-9.2,-42.3,-9.9,-41.7,-9.9,-41.2,-10.7,-41.3,-10.2,-41,-9.1,-40.5,-9.5,-40.1,-10,-40,-9,-39.3,-9.3,-38.9,-9,-32.7,-8.5,5,47.8,4.7,47.2,5.2,47.9,-35.1,-27.5,-34.6,-27.2,-35.3,-27.7];
const cd8LeftFill=[-46.9,14.2,-47.4,14.6,-46,14.2,-46.5,13.5,-47.4,13.4,-46,12.8,-45.5,13.4,-44.6,12.4,-47,12.8,-49,14.8,-48.8,14,-48.9,13,-44.3,6.6,-44,6.9,-43.8,6.8,-45,6.8,-44.4,5.9,-43.1,6.4,-42.7,6.4,-43.4,5,-43.3,7.3,-42,5.2,-47.1,5,-46.7,6,-41.9,2.2,-42.6,3.2,-43.5,2.9,-41.4,3.4,-37.4,-3,-36.7,-3.2,-39.8,-4,-37,-4.1,-35.2,-3.9,-34.3,-4.1,-38.3,-5,-37.7,-4.8,-36.9,-5.1,-36,-4.9,-35.6,-5.2,-39.4,-5.5,-37.7,-5.6,-36.7,-5.7,-35.9,-5.5,-38.3,-6,-37.3,-6.1,-36.4,-5.9,-35.7,-6.1,-34.9,-5.9,-39.4,-6.5,-38.4,-6.6,-37.3,-6.7,-35.9,-6.7,-39,-7,-38,-6.9,-37,-7,-36,-7,-34.9,-6.9,-41.5,-7.5,-39.7,-7.6,-38.7,-7.6,-37.7,-7.7,-36.9,-7.6,-36.1,-7.5,-41.9,-8,-39.8,-8,-38.5,-8,-37.5,-7.9,-40.6,-8.5,-39.2,-8.5,-38.6,-8.6,-38,-8.5,-39.5,-9,-42,-6.5,-41.1,-6.5,-40.2,-6.6,-41,-5.5,-40.4,-5.4,-40,-5.6,-41.8,-7.1,-40.8,-7];
const cd8Mid=[-3.5,18.8,-5.7,27.6,-8.6,29.1,1.2,32.5,-.1,25.4,-.4,25.9,-13.9,26.3,-21.6,7.6,-10.9,7.5,-7,7.8,-6.7,7,-3.2,8.1,-1.5,14.3,-.7,13.9,-.1,14.5,.2,13.9,-.3,13,-1.1,15.8,-11.2,5.5,-8.8,3.6,-16.8,-4,-11.4,-5.2,-11.9,-5.5,-5.3,-3.7,-4.7,-5.2,-4.6,-4.2,-5,-7.5,-4.8,-8.2,-4.8,-11.5,-4.5,-6.3,-3.2,-6.3,-2.6,-6,-2.1,-6.9,-3.1,-7.6,-2,-7.8,-2.5,-8,-3.6,-9.7,-2,-11.1,-3,-12.4,-3.6,-12.9,-2.4,-12.8,-1.3,-11.8,-1.4,-12.8,-.9,-14.1,-.4,-12.6,-.6,-11.2,-.3,-15,-2.6,-15.8,-1.8,-15.7,-1.4,-16.2,3.8,-18.2,2.7,-14.9,5.8,-15.5,5,-16.5,.6,-12.4,1.2,-14,4.4,-12.4,4.5,-13.8,6.5,-14.1,7.1,-12.8,7.4,-12.2,6,-10.9,6.5,-11.2,5.3,-10.4,1.8,-10.7,3,-9.8,5,-7.9,8,-8.7,7.8,-7.9,8.8,-7.8,.3,-7.8,1,-7.5,2,-6.3,5.8,-6.6,2.7,-5.7,2.8,-4.9,3,-5,2.1,-3.2,1.4,-3.9,1.8,-3.9,5.6,-3.9,6,-4.6,5.5,-4.9,7.2,-5,8,-4.5,-3,-3.8,9.2,-6.5,9.6,-6.7,9.8,-3.5,10.3,-3.7,11.6,-4.4,12.4,-4.2,4.2,2,3.9,.3,4.6,.2,5.2,.4,3.1,-.8,4.7,-1.2,3.6,-2.2,7.4,.1,8.9,-2.1,7.8,-2.7,10,.4,11.3,-.2,10,-2.2,11,-1.7,11.2,-2.7,10.8,3.9,9.2,4.7,10.9,1,-.4,3.2,.6,3.8,1,3.3,1.4,2.8,.2,2.5,0,1.9,1,1.3,1.5,1.7,2.1,1.2,1.7,4,2.8,3.4,3.4,3.3,2.5,2.8,-2.1,-.1,-1.4,.1,-4.5,-.6,-3.8,-.9,-2.1,-2.1,8,8.6,5.4,8.8,4.6,11.5,5,11,5.5,10.3,5.9,9,7.2,8.7,8.5,8.4,9.5,8.4,10.1,7.5,10.9,-1.4,11.7,-2.6,12.5,-.8,13.6,-1.4,12.9,-2.4,11.5,-3.6,10.5,-3.8,17.1,15.4,17,12.5,17.8,12.9,20.9,12.2,29.8,13,30.3,11.7,25.7,18,25.5,17.1,21.4,17.4,17.3,24.5,17.5,25.2,11.1,27.3,11.6,27.5,12,28.2];
const cd8Band=[24.1,7.3,23.2,6.3,23.8,6.1,23.2,4.4,24.9,5.1,25.9,4.3,26.3,4,28.1,5.8,28.9,6,29.2,5.1,29.2,4.4,32.4,4.5,31.6,4,32.8,5.9,33.4,4.7,33.7,6,33.2,5.4,35.4,5.6,36.2,6,35.3,4.4,37,5.2,36.8,4.4,37.8,3,37,3.5,38,1.6,35.6,2.3,35,2.5,35,1.4,35.9,1.2,36.6,1.6,36.7,.6,36.4,-.1,36.7,-.4,36.1,-1.6,36.6,-1.2,35.5,-3.5,34.5,-3.8,34.3,-3.3,33.9,2.1,32.6,2.3,35,-.7,34.6,-2,33.9,.6,32.9,-.9,33.3,.9,32.1,1.5,32.2,-.7,33.2,-1.9,33.4,-3.1,32.5,-2.4,34.3,-2.6,32.8,-3.7,32,-3.9,31.6,-3.8,31.5,-2.8,30.5,-3.3,30.7,-4.1,29.2,-3.8,29.8,-2.1,28.9,.4,31.4,1.4,31.3,.5,30.6,0,29.6,.5,32,.6,31.3,-1.7,29.8,3.1,30.8,2.8,29.8,2,27.6,2.5,28.1,2.3,26.8,2.8,24.8,2.3,25.5,1.2,23.8,.6,23.4,2.3,23,1.4,23.2,.5,26.5,1,27.1,.7,26.6,-.9,28.2,-.4,27.8,-1,25.1,-2.7,26.2,-3.1,25.1,-1.5,24.6,-1.9,22.9,-3.7,23.8,-3.8,24.7,-4.1,23.5,-.3,24,-.9,22.4,-1.7,22.8,-1.6,23.2,-2.1,23.8,-2,21,-.1,21.5,-2,21.3,-2.8,21.7,.4,21.5,1.7,20.9,.9,19.5,1.4,19.1,.2,18.7,.4,18.8,-.5,19.2,2.2,19.5,3.1,16,1.4,15.9,-.9,19.4,-2.6,19.8,-3.2,19.2,-1.1,19.5,-1.9,18.1,4.6,20.4,5.6,20.7,4.4,13.1,5,13.3,3.2,14.5,2.7,14.3,1,14.4,.4,14.1,-3.9,12.7,-.6,13.2,-.4,11.3,-.2,11.2,-2.4,11.2,-3.6,11.6,-4.3,12.5,-4.1,11,.9,15.2,-9.2,16.3,-9.5,16.4,-10.4,19.5,-7.1,20.8,-7.1,19.1,-8,22.8,-7.2,21.2,-8.7,21.1,-9.4,19.6,-10.9,17.3,-11.4,16.9,-11.6,17.3,-12.7,17.9,-13.8,19.1,-14,19.6,-14.2,21,-12.9,19.6,-11.6,30.8,-16.2,25.9,-20.6,24.3,-22.4,27.4,-23.5,24,-25.1,22.8,-25.9];
const cd8Low=[-14.9,-33.6,-14.5,-32.7,-14,-32.6,-13.9,-33.6,-13.4,-32.7,-14,-35,-13.1,-34.3,-12.5,-34,-12.1,-33.9,-13.4,-35.6,-13,-36.4,-12.3,-36.2,-12.2,-35.1,-11.5,-34.9,-11.3,-35.7,-12.8,-32,-12.2,-32.2,-11.5,-32.8,-11,-33.1,-11.1,-33.6,-9.8,-32.7,-10,-33.4,-10.3,-34.3,-10.4,-34.7,-13.3,-31.7,-13,-30.6,-12.7,-30.8,-12.1,-30.3,-11.6,-31.2,-10.9,-31.1,-10.4,-31.5,-9.6,-30.5,-9.3,-31.2,-9,-30.1,-8.8,-30.6,-9.2,-31.9,-8.6,-31.9,-7.9,-30.9,-7.9,-31.6,-7.1,-32,-7.3,-32.8,-6.9,-33.2,-6.6,-34,-8.6,-33.1,-9.3,-34,-8.5,-33.8,-7.3,-34.5,-7.7,-35,-12.5,-29.1,-11.9,-28.2,-11.4,-27.3,-10.9,-26.9,-11,-26.4,-10.5,-25.8,-9.8,-26.5,-10.2,-27.3,-9.7,-27.5,-9.2,-25,-8.7,-27.1,-8.3,-25.4,-8.6,-25.9,-9.1,-28.1,-11.3,-28.9,-10.7,-29.7,-10,-29.6,-9.3,-29.1,-11.4,-30.1,-7.5,-25.3,-7,-25.9,-7.8,-26.9,-7.5,-27.8,-7.8,-28.5,-7.3,-29,-7,-30.1,-6.6,-28.4,-6.1,-29.7,-5.3,-29,-6,-31.1,-4.7,-30.6,-4.7,-32.4,-3.4,-33.1,-6.4,-26.3,-5.4,-25.8,-4.8,-26,-5.6,-27.1,-5,-26.9,-4.3,-27.5,-5.5,-27.7,-6.6,-24.5,-6.1,-23.8,-5.4,-23.9,-4.3,-23.8,-4.9,-24.8,-3.5,-23.5,-2.7,-24.9,-3.7,-25.9,-3,-25.9,-3.6,-26.8,-3.1,-27.1,-2.4,-27.1,-3.4,-27.9,-3,-28.1,-2.2,-28.5,-1.9,-28.1,-1.9,-28.9,-1.3,-29.4,-4.1,-28.8,-4,-29.5,-5,-30.2,-2.3,-30.8,-2.4,-31.4,-1.2,-32.5,0,-33,-1.5,-33.1,-1.9,-33.6,-2.7,-33.8,-2.1,-34.3,-1.5,-34.5,-1.1,-35.5,-1.5,-35.9,-.3,-35.1,-.4,-36.2,.3,-34.5,1.5,-34.9,2.3,-35.2,.4,-35.5,-.8,-24.5,-1.4,-24.5,.4,-23.8,0,-24.8,.6,-25.3,-.5,-26.4,-1.2,-25.6,.2,-25.9,.2,-27.1,.4,-27.7,-4.8,-34.4,-4.9,-35,-4.7,-35.8,-5.9,-35.5,-6.5,-35.5,-7.2,-35.7,-7.9,-36.2,-6,-36.7,-6.8,-36.7,-7.4,-36.7,-8,-37.1,-8.5,-37.4,-8.5,-38.6,-7.2,-37.7,-6.2,-38.4,-5.1,-36.8,-5.6,-37.6,-4.7,-37.8,-7.3,-38.6,-5.7,-38.6,-5.1,-38.8,-4.2,-39.2,-3.7,-39.5,-6.4,-39.5,-7.3,-39.5,-5.7,-39.8,-5.2,-40.2,-4.3,-40.5,-3.5,-41,-4.1,-41.2,-9.8,-36.4,-9.4,-37.1,-10.1,-37.5,-10.3,-38.3,-10.7,-36.7,-11.4,-36.4,-10,-39,-9.2,-37.6,-11.6,-37.1,-13,-37.5,-12.1,-37.3,-12.1,-38.9,-12.4,-38.1,-13.7,-38.1,-14.2,-37.9,-14.7,-37.3,-13.8,-37.3,-14.3,-38.2,-14.9,-39.8,-14.8,-39.2,-14.3,-40,-15,-40.5,-13.6,-39.4,-13.7,-40.1,-12.9,-39.8,-13.3,-40.8,-12.4,-40.5,-12.9,-41.7,-12.3,-41.4,-11.6,-39.8,-11.5,-40.9,-10.9,-40.5,-10.5,-40.2,-10.7,-41.7,-9.7,-40.2,-9.6,-41.7,-9.2,-40.8,-8.9,-39.9,-8.5,-41.2,-7.6,-40,-7.6,-41.3,-6.8,-40.7,-6.1,-40.8,-5.1,-40.8,-4.6,-42.4,-3.9,-42.5,-3.3,-42.9,-3.4,-42.2,-13.9,-42.6,-13.9,-43.2,-13.1,-42.9,-12.4,-43.2,-11.9,-42.7,-12.7,-43.9,-11.8,-43.5,-11,-43.7,-10.7,-42.7,-10.1,-42.5,-9.2,-42.6,-8.4,-42.9,-7.8,-43.2,-9.1,-43.5,-8.7,-44.1,-7.9,-44.3,-7,-43.8,-6.9,-43,-6.4,-42.7,-6,-43.5,-5.6,-43.6,-4.7,-43.3,-4.3,-43.5,-4.6,-44.3,-3.2,-43.9,-3.5,-45,-2.5,-43.3,-1.8,-43.2,-1.5,-43.7,-2.1,-44.4,-2.7,-44.9,-1.1,-45.9,-14.3,-45.2,-11.8,-44.8,-11.1,-44.4,-10.4,-44.3,-12.3,-45.5,-10.9,-45.5,-9.8,-46,-9.5,-44.5,-9.2,-45.2,-8.6,-46.1,-9.2,-46.6,-7.7,-45.2,-7,-45.4,-6.4,-45.4,-5.4,-45.8,-6.6,-46.2,-6.1,-46.4,-7.7,-46.4,-7.9,-46.9,-6.8,-47.3,-4.5,-45.1,-4,-45.8,-4.3,-46.4,-5.5,-47,-3.7,-47,-4.1,-47.4,-2.8,-47.1,-12,-46.2,-11.6,-46.7,-11.4,-47.2,-11.4,-47.8,-10.3,-47.2,-10.7,-48.2,-10.2,-48.5,-9.6,-48,-8.6,-48,-9.6,-49,-9.2,-49.1,-8.3,-48.7,-7.7,-49,-7.4,-47.8,-6.9,-49.1,-6.6,-48.5,-5.9,-48.6,-6,-49.3,-5.2,-49.1,-5.6,-49.7,-4.7,-47.9,-4.7,-48.8,-4.3,-49.3,-4.9,-50.6,-4.1,-50.3,-4,-51,-3.2,-51,-3,-48.5,-3.2,-49.9,-2.5,-50.4,-2.4,-49.2,-2,-49,-1.8,-47.4,-1.9,-48.4,-1.2,-47.9,-.7,-48,-3.1,-52,-2.8,-52.9,-2.3,-51.9,-2,-51.8,-2.1,-52.6,-1.6,-53.1,-1.3,-53.8,-2.5,-54.3,-2,-54.4,-.9,-54.6,-2.4,-55.2,-1.6,-55.3,-1.2,-55,-2.3,-55.9];
const cd8LowFill=[-10.2,-26,-8.9,-26.2,-10.6,-27,-8,-27.2,-6.8,-27,-4.5,-27,-2.8,-27.2,-11.2,-28,-10.3,-28.2,-6.9,-28,-4.8,-28.1,-11.8,-29,-9.9,-29.1,-8.6,-29,-6.7,-29.2,-4.7,-29,-3.6,-29.2,-2.6,-29,-12.7,-30,-10.3,-30.1,-8.2,-30,-6.5,-30.2,-5.5,-30,-11.2,-31,-9.9,-31.1,-8.6,-31,-7.4,-31.2,-13,-32,-11.7,-31.9,-10,-32,-8,-32.2,-13,-33,-12.3,-33.1,-10.5,-33,-8,-33,-7.7,-33.2,-14,-34,-11.5,-34.1,-9.8,-34,-8.9,-34.2,-7,-34,-12.8,-35,-10.7,-35.1,-9,-35,-12.7,-36,-11.9,-36.1,-10,-36,-6.4,-36.2,-5.4,-36,-13.4,-37,-10.6,-37.2,-8.8,-37,-7.7,-37.2,-6.5,-37,-5.6,-37.1,-4.6,-37,-14.9,-38,-13.1,-38.2,-11.7,-38,-11.2,-38.1,-9.8,-38,-8,-38.1,-6.7,-38,-5.4,-38.2,-14.2,-39,-13.3,-39.1,-11.3,-39,-9.3,-39.2,-6.8,-39,-4.7,-39.1,-12.3,-40,-10.3,-40.1,-9.2,-40,-8.1,-40.2,-7.1,-40,-6.3,-40.1,-4.9,-40,-4,-40.1,-12.1,-41,-11,-41.1,-10,-41,-7.1,-41.1,-4.6,-41,-13.3,-42,-11.3,-42.1,-10.1,-42,-8.9,-42.1,-8,-42,-4.2,-42.1,-12.7,-43,-11.3,-43.1,-9.9,-43,-8.8,-43.1,-4.9,-43,-4,-43.1,-12,-44,-11.5,-44.1,-10.5,-44,-9.9,-44.1,-7.3,-44,-4,-44.1,-3.6,-44,-11.3,-45,-10.3,-45.1,-8.9,-45,-5.9,-45.1,-5,-45,-4.1,-45.1,-11.4,-46,-9.6,-46.1,-7.2,-46,-4.9,-46.1,-8.9,-47,-7.4,-47.1,-6.3,-47,-4.8,-47.1,-7.2,-48,-6.1,-48.1,-4.3,-48,-2.5,-48.1,-8.6,-49,-5.5,-49.1,-3.9,-49,-4.6,-50,-3.6,-50.1,-4.5,-51,-2.6,-52,-2.2,-53,-1.9,-53.1,-1.8,-54,-1.5,-54.1,-1,-54,-2,-55,-1.9,-55.1];
const cd8Tail=[3.1,-40.7,3.8,-41.1,4.5,-39.9,5.4,-40.2,2.8,-43.7,3.2,-43.2,6.1,-41,6.2,-40.2,7.1,-40.2,7.6,-40,8,-39.4,8.6,-39.3,9.3,-39.2,9.8,-39,7.2,-41.5,5.5,-41.7,5.5,-42.5,6.2,-42.4,6.7,-42.1,6.2,-43.2,6.3,-43.7,7.1,-43,8.1,-42.3,8.5,-42.8,8.5,-41.4,8.4,-40.7,9.1,-41.7,9.9,-41.8,10.5,-41.3,9.6,-40.5,10.5,-40.5,11.6,-40.7,11.2,-40.2,10.8,-39.2,10.6,-38.4,11.4,-38.6,12.3,-38.3,12.6,-37.6,12.3,-39.4,12.5,-40.1,13.3,-37.9,13.9,-37.6,14.8,-37.4,15.5,-37.4,15.8,-38.2,15,-39,13.2,-39.4,14,-40.2,14.5,-39.8,13.9,-38.4,12.9,-38.6,14.5,-38.2,13.4,-40,10.2,-37.4,8.5,-38.2,7.8,-39.6,7.7,-23.6,7.8,-24.5,8.6,-23.5,9.3,-22.6,9.7,-23.3,10,-24,9.9,-25.2,9.1,-23.8,6.8,-31.9,7.1,-33.6,7.1,-33.9,3.1,-27.5,3.3,-28.1,13,-38.8,13.6,-39.1,14.2,-38.6,14.8,-38.4,15.3,-38.2,14.1,-37.8,13.1,-39.8,11.8,-39.9,11,-40.8,9.1,-40.6,6.4,-43,5.9,-41.9,6.6,-42.8,13,-38.2,14.9,-37.9,12.2,-37.9];

// Readings above were taken against a first estimate of the tick spacing; these align them with the true ticks.
const readOffsetX=0.33, readScaleX=1.0057, readOffsetY=-0.14, readScaleY=1.0014;
const seriesValues=[
  [...bTop,...bLeft,...bLow,...bMid,...bFillLeft,...bFillTop,...bFillLow],
  dcConv,
  endo,
  [...fibroA,...fibroB,...fibroC],
  mast,
  [...nkA,...nkB,...nkC,...nkFill],
  plasma,
  cd4,
  [...cd8Left,...cd8LeftFill,...cd8Mid,...cd8Band,...cd8Low,...cd8LowFill,...cd8Tail]
];
const palette=["#00CED1","#00FFFF","#A2CD5A","#FFD700","#00BFFF","#228B22","#FFA500","#000080","#0000FF"];
const toPairs=a=>{const r=[];for(let i=0;i+1<a.length;i+=2)r.push([readOffsetX+readScaleX*a[i],readOffsetY+readScaleY*a[i+1]]);return r;};
const font="'Liberation Sans',Arial,sans-serif";
const axisCommon=(name,ticks,min,max,gap,labelMargin)=>({
  type:'value',name,nameLocation:'middle',nameGap:gap,min,max,scale:true,
  nameTextStyle:{color:'#000',fontSize:45,fontFamily:font},
  splitLine:{show:false},
  axisLine:{show:true,onZero:false,lineStyle:{color:'#000',width:3.5}},
  axisTick:{show:true,length:10,customValues:ticks,lineStyle:{color:'#333',width:3}},
  axisLabel:{customValues:ticks,color:'#4D4D4D',fontSize:35,fontFamily:font,margin:labelMargin}
});
const chart=echarts.init(document.getElementById('c'),null,{renderer:'canvas',width:2700,height:1800});
chart.setOption({
  animation:false,backgroundColor:'#fff',
  grid:{left:149,top:24,width:2136,height:1645,containLabel:false},
  xAxis:axisCommon('TSNE_1',xTicks,-55.7,45.25,65,20),
  yAxis:axisCommon('TSNE_2',yTicks,-61,53,83,20),
  legend:{orient:'vertical',left:2376,top:565,icon:'circle',itemWidth:28,itemHeight:28,itemGap:29.9,selectedMode:false,
    data:cellTypes,textStyle:{fontSize:41.6,fontFamily:font,color:'#000',lineHeight:28,padding:[0,0,0,35]}},
  series:cellTypes.map((n,i)=>({name:n,type:'scatter',symbol:'circle',symbolSize:15.5,
    itemStyle:{color:palette[i],opacity:1},data:toPairs(seriesValues[i]),large:false,silent:true}))
});
</script></body></html>
